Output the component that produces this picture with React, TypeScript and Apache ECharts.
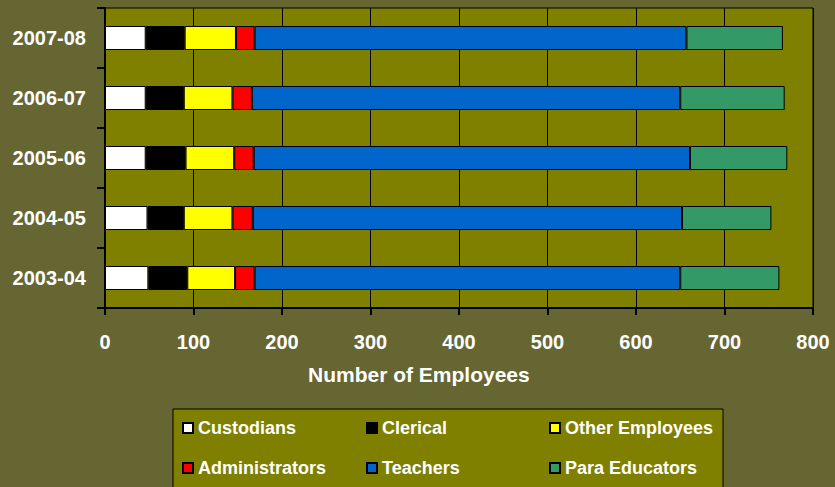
import React, { useEffect, useRef } from "react";
import * as echarts from "echarts";

const categories = ["2003-04", "2004-05", "2005-06", "2006-07", "2007-08"];
const custodians = [49, 48, 46, 46, 46];
const clerical = [44, 41, 45, 43, 44];
const otherEmployees = [54, 55, 55, 55, 58];
const administrators = [22, 23, 22, 22, 21];
const teachers = [481, 485, 493, 484, 488];
const paraEducators = [112, 101, 110, 118, 109];
const xTicks = [0, 100, 200, 300, 400, 500, 600, 700, 800];

const seriesDefs = [
  { name: "Custodians", data: custodians, color: "#FFFFFF" },
  { name: "Clerical", data: clerical, color: "#000000" },
  { name: "Other Employees", data: otherEmployees, color: "#FFFF00" },
  { name: "Administrators", data: administrators, color: "#FF0000" },
  { name: "Teachers", data: teachers, color: "#0066CC" },
  { name: "Para Educators", data: paraEducators, color: "#339966" },
];

const FONT = "'Liberation Sans', Arial, sans-serif";

export default function App() {
  const ref = useRef<HTMLDivElement>(null);
  useEffect(() => {
    if (!ref.current) return;
    const chart = echarts.init(ref.current, undefined, { renderer: "svg" });
    const colLeft = [182, 366, 549];
    const rowTop = [419, 459];
    const legends = seriesDefs.map((s, i) => ({
      left: colLeft[i % 3],
      top: rowTop[Math.floor(i / 3)],
      padding: 0,
      itemWidth: 10,
      itemHeight: 10,
      icon: "rect",
      selectedMode: false,
      data: [s.name],
      textStyle: { color: "#FFFFFF", fontSize: 18, fontWeight: "bold", fontFamily: FONT },
    }));
    chart.setOption({
      animation: false,
      backgroundColor: "#666633",
      textStyle: { fontFamily: FONT },
      graphic: [
        {
          type: "rect",
          shape: { x: 173, y: 409, width: 550, height: 100 },
          style: { fill: "#808000", stroke: "#000000", lineWidth: 1 },
          z: 0,
        },
        {
          type: "text",
          x: 308,
          y: 374,
          style: {
            text: "Number of Employees",
            fill: "#FFFFFF",
            font: `bold 21px ${FONT}`,
            verticalAlign: "middle",
          },
        },
      ],
      legend: legends,
      grid: {
        left: 105,
        right: 22,
        top: 8,
        bottom: 179,
        show: true,
        backgroundColor: "#808000",
        borderColor: "#000000",
        borderWidth: 1,
        containLabel: false,
      },
      xAxis: {
        type: "value",
        min: xTicks[0],
        max: xTicks[xTicks.length - 1],
        interval: 100,
        axisLine: { show: true, lineStyle: { color: "#000000", width: 2 } },
        axisTick: { show: true, length: 7, lineStyle: { color: "#000000", width: 2 } },
        splitLine: { show: true, lineStyle: { color: "#000000", width: 1 } },
        axisLabel: {
          color: "#FFFFFF",
          fontSize: 20,
          fontWeight: "bold",
          fontFamily: FONT,
          margin: 24,
        },
      },
      yAxis: {
        type: "category",
        data: categories,
        axisLine: { show: true, lineStyle: { color: "#000000", width: 2 } },
        axisTick: { show: true, length: 8, alignWithLabel: false, lineStyle: { color: "#000000", width: 2 } },
        splitLine: { show: false },
        axisLabel: {
          color: "#FFFFFF",
          fontSize: 20,
          fontWeight: "bold",
          fontFamily: FONT,
          margin: 19,
        },
      },
      series: seriesDefs.map((s) => ({
        name: s.name,
        type: "bar",
        stack: "total",
        barWidth: "40%",
        data: s.data,
        itemStyle: { color: s.color, borderColor: "#000000", borderWidth: 1 },
        emphasis: { disabled: true },
      })),
    });
    return () => chart.dispose();
  }, []);
  return (
    <div
      ref={ref}
      style={{ position: "fixed", left: 0, top: 0, width: 835, height: 487 }}
    />
  );
}
